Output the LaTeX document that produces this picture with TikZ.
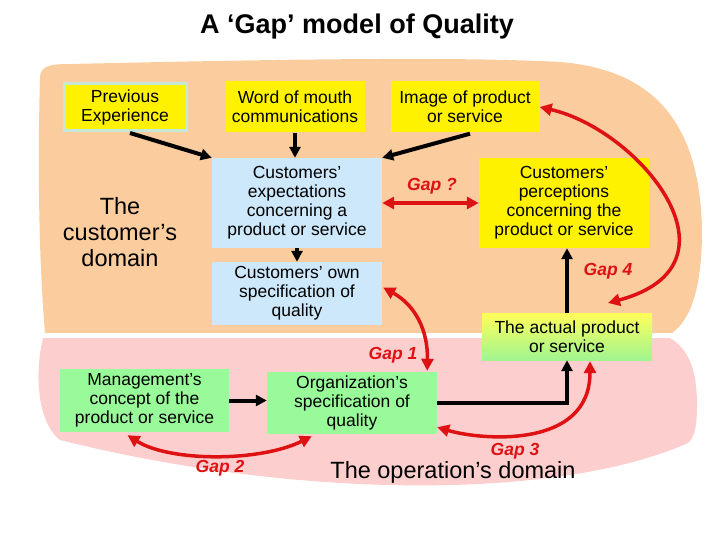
\documentclass[tikz,border=0pt]{standalone}
\usepackage{fontspec}
\setmainfont{Liberation Sans}
\definecolor{peach}{RGB}{251,204,158}
\definecolor{blush}{RGB}{253,206,206}
\definecolor{paleblue}{RGB}{204,232,250}
\definecolor{palegreen}{RGB}{153,250,153}
\definecolor{gapred}{RGB}{222,18,18}
\definecolor{glow}{RGB}{198,232,214}
\usetikzlibrary{
    arrows.meta,
    calc
}
\tikzstyle{box} = [
    inner sep=0pt,
    align=center,
    font=\fontsize{17.5}{19}\selectfont
]
\tikzstyle{yellowbox} = [box, fill=yellow]
\tikzstyle{bluebox} = [box, fill=paleblue]
\tikzstyle{greenbox} = [box, fill=palegreen]
\tikzstyle{arrow} = [
    -{Triangle[length=11pt,width=11pt]},
    line width=4pt
]
\tikzstyle{gap} = [
    {Triangle[length=12pt,width=12pt]}-{Triangle[length=12pt,width=12pt]},
    line width=3.5pt,
    draw=gapred
]
\tikzstyle{gaplabel} = [
    font=\fontsize{17.5}{19}\selectfont\bfseries\itshape,
    text=gapred
]
\tikzstyle{domaintext} = [
    align=center,
    font=\fontsize{23.5}{26}\selectfont
]

\begin{document}
\begin{tikzpicture}[x=1pt, y=-1pt]
    \useasboundingbox (0,0) rectangle (720,540);

    % Title
    \node[font=\fontsize{27}{30}\selectfont\bfseries] (title) at (357,27) {A ‘Gap’ model of Quality};

    % Customer's domain
    \fill[peach] (40,78) .. controls (40,66) and (50,64) .. (70,64)
        .. controls (250,60) and (450,56) .. (560,62)
        .. controls (660,70) and (700,130) .. (702,230)
        .. controls (702,290) and (690,320) .. (672,333)
        -- (45,333) .. controls (38,250) and (38,150) .. (40,78) -- cycle;

    % Operation's domain
    \fill[blush] (43,338) -- (670,338)
        .. controls (690,350) and (697,372) .. (697,405)
        .. controls (697,428) and (694,438) .. (688,443)
        .. controls (560,500) and (300,500) .. (60,440)
        .. controls (40,425) and (33,380) .. (43,338) -- cycle;

    % Domain names
    \node[domaintext] (custdom) at (120,232) {The\\customer’s\\domain};
    \node[domaintext] (opdom) at (453,472) {The operation’s domain};

    % Sources of expectations
    \node[yellowbox, draw=glow, line width=3pt, minimum width=122pt, minimum height=47pt] (prev) at (125,107) {Previous\\Experience};
    \node[yellowbox, minimum width=139pt, minimum height=51pt] (wom) at (295,107) {Word of mouth\\communications};
    \node[yellowbox, minimum width=149pt, minimum height=51pt] (img) at (465,107) {Image of product\\or service};

    % Customer side
    \node[bluebox, minimum width=170pt, minimum height=90pt] (expect) at (297,203) {Customers’\\expectations\\concerning a\\product or service};
    \node[bluebox, minimum width=170pt, minimum height=63pt] (ownspec) at (297,293.5) {Customers’ own\\specification of\\quality};
    \node[yellowbox, minimum width=170pt, minimum height=90pt] (percep) at (564,203) {Customers’\\perceptions\\concerning the\\product or service};

    % Operation side
    \node[box, top color={rgb,255:red,255;green,255;blue,90}, bottom color={rgb,255:red,160;green,245;blue,145}, minimum width=170pt, minimum height=47pt] (actual) at (567,336.5) {The actual product\\or service};
    \node[greenbox, minimum width=169pt, minimum height=63pt] (mgmt) at (144.5,400.5) {Management’s\\concept of the\\product or service};
    \node[greenbox, minimum width=170pt, minimum height=62pt] (orgspec) at (352,403) {Organization’s\\specification of\\quality};

    % Flow
    \draw[arrow] ($(prev.south)+(5,1)$) -- (expect.north west);
    \draw[arrow] (wom.south) -- (wom.south |- expect.north);
    \draw[arrow] ($(img.south)+(5,1)$) -- (expect.north east);
    \draw[arrow] (expect.south) -- (ownspec.north);
    \draw[arrow] (actual.north) -- (actual.north |- percep.south);
    \draw[arrow] (mgmt.east) -- (mgmt.east -| orgspec.west);
    \draw[arrow] (orgspec.east) -| (actual.south);

    % Gaps
    \coordinate (gap4end) at (608,303);
    \draw[gap] (expect.east) -- (percep.west);
    \node[gaplabel] (gapq) at (432,186) {Gap ?};
    \draw[gap] (img.east) .. controls (640,130) and (750,265) .. (gap4end);
    \node[gaplabel] (gap4) at (608,271) {Gap 4};
    \draw[gap] ($(ownspec.east)+(1,-6)$) .. controls (415,305) and (428,330) .. ($(orgspec.north east)+(-10,-1)$);
    \node[gaplabel] (gap1) at (393,355) {Gap 1};
    \draw[gap] ($(mgmt.south)+(-17,3)$) .. controls (170,462) and (260,462) .. ($(orgspec.south west)+(45,2)$);
    \node[gaplabel] (gap2) at (220,468) {Gap 2};
    \draw[gap] ($(orgspec.south east)+(0,-7)$) .. controls (480,440) and (590,450) .. ($(actual.south)+(23,1)$);
    \node[gaplabel] (gap3) at (515,451) {Gap 3};
\end{tikzpicture}
\end{document}
